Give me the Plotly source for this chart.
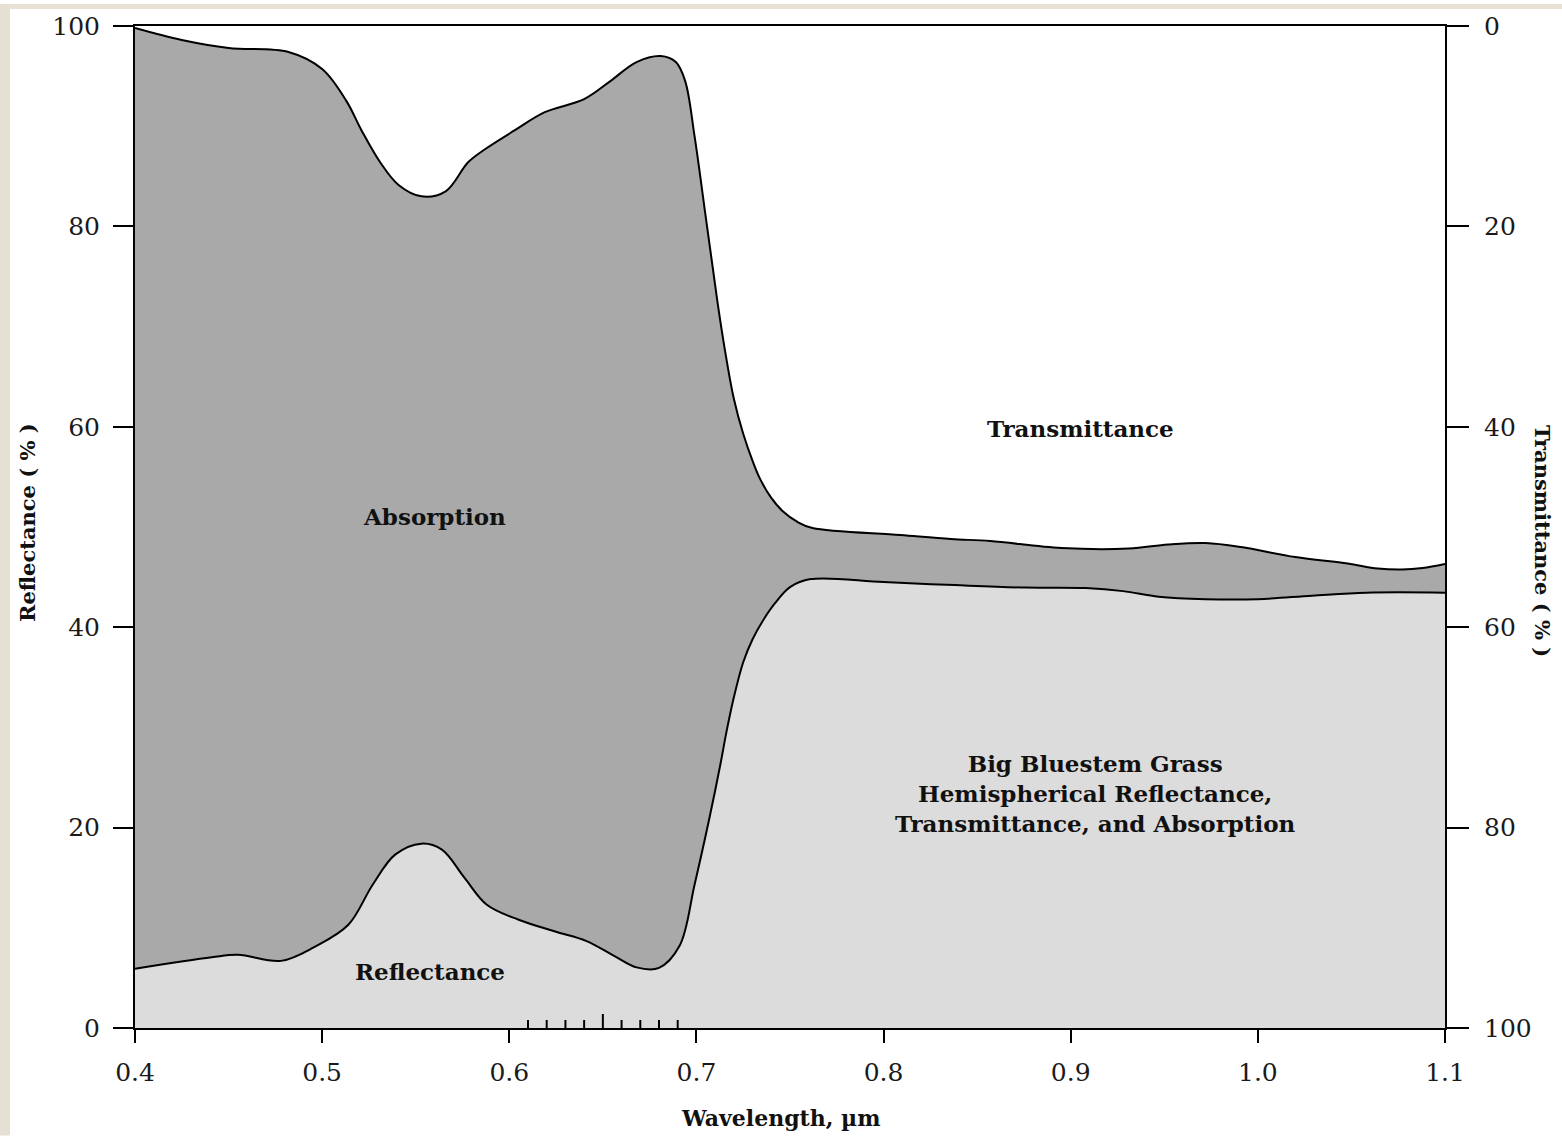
import plotly.graph_objects as go

# ---------------- data ----------------
# Upper boundary (read on the right axis as transmittance, %)
trans_wl = [0.400, 0.425, 0.450, 0.482, 0.500, 0.513, 0.521, 0.531, 0.541, 0.553,
            0.566, 0.578, 0.587, 0.603, 0.619, 0.640, 0.654, 0.668, 0.681, 0.689,
            0.694, 0.699, 0.705, 0.709, 0.712, 0.716, 0.720, 0.725, 0.730, 0.734,
            0.740, 0.746, 0.754, 0.762, 0.809, 0.836, 0.857, 0.895, 0.931, 0.952,
            0.972, 0.991, 1.020, 1.048, 1.064, 1.077, 1.088, 1.100]
transmittance = [0.2, 1.4, 2.2, 2.6, 4.3, 7.5, 10.4, 13.6, 15.9, 17.0,
                 16.5, 13.6, 12.3, 10.4, 8.6, 7.3, 5.5, 3.6, 3.0, 3.6,
                 5.5, 11.0, 19.1, 24.5, 28.5, 33.2, 37.2, 40.7, 43.4, 45.2,
                 47.1, 48.4, 49.5, 50.1, 50.8, 51.2, 51.4, 52.1, 52.15, 51.75,
                 51.6, 52.0, 53.0, 53.65, 54.15, 54.25, 54.1, 53.7]

# Lower boundary: hemispherical reflectance, %
refl_wl = [0.400, 0.441, 0.455, 0.478, 0.496, 0.514, 0.527, 0.539, 0.553, 0.564,
           0.576, 0.588, 0.605, 0.625, 0.641, 0.656, 0.668, 0.680, 0.691, 0.699,
           0.707, 0.713, 0.716, 0.720, 0.725, 0.730, 0.736, 0.742, 0.750, 0.761,
           0.800, 0.838, 0.876, 0.908, 0.928, 0.947, 0.972, 1.000, 1.029, 1.058,
           1.100]
reflectance = [5.9, 7.05, 7.3, 6.7, 8.1, 10.3, 14.3, 17.3, 18.4, 17.8,
               15.0, 12.3, 10.8, 9.6, 8.7, 7.2, 6.05, 6.0, 8.2, 14.3,
               21.0, 26.5, 29.5, 33.0, 36.5, 38.8, 40.8, 42.4, 44.0, 44.8,
               44.5, 44.2, 43.95, 43.9, 43.6, 43.05, 42.8, 42.8, 43.15, 43.45,
               43.45]

x_ticks = [0.4, 0.5, 0.6, 0.7, 0.8, 0.9, 1.0, 1.1]
x_tick_labels = ["0.4", "0.5", "0.6", "0.7", "0.8", "0.9", "1.0", "1.1"]
y_ticks = [0, 20, 40, 60, 80, 100]
y_tick_labels = ["0", "20", "40", "60", "80", "100"]
minor_tick_wl = [0.61, 0.62, 0.63, 0.64, 0.65, 0.66, 0.67, 0.68, 0.69]
major_minor_wl = 0.65

# ---------------- styling ----------------
DARK = "#a9a9a9"
LIGHT = "#dcdcdc"
SERIF = "DejaVu Serif"
TICK_FONT = dict(family=SERIF, size=25, color="#1a1a1a")
LABEL_FONT = dict(family=SERIF, size=23, color="#111111")

top_curve = [100 - t for t in transmittance]

fig = go.Figure()

fig.add_trace(go.Scatter(
    x=refl_wl, y=reflectance, mode="lines",
    line=dict(color="black", width=2, shape="spline", smoothing=1.0),
    fill="tozeroy", fillcolor=LIGHT, showlegend=False, hoverinfo="skip"))

fig.add_trace(go.Scatter(
    x=trans_wl, y=top_curve, mode="lines",
    line=dict(color="black", width=2, shape="spline", smoothing=1.0),
    fill="tonexty", fillcolor=DARK, showlegend=False, hoverinfo="skip"))

# small inside ticks on the wavelength axis
mx, my = [], []
for wl in minor_tick_wl:
    h = 1.4 if abs(wl - major_minor_wl) < 1e-9 else 0.8
    mx += [wl, wl, None]
    my += [0, h, None]
fig.add_trace(go.Scatter(x=mx, y=my, mode="lines",
                         line=dict(color="black", width=2),
                         showlegend=False, hoverinfo="skip", cliponaxis=False))

# dummy trace on right axis so it is drawn
fig.add_trace(go.Scatter(x=[None], y=[None], yaxis="y2", showlegend=False))

fig.update_layout(
    width=1562, height=1136,
    margin=dict(l=135, r=117, t=22, b=108),
    paper_bgcolor="white", plot_bgcolor="white",
    xaxis=dict(range=[0.4, 1.1], tickmode="array", tickvals=x_ticks,
               ticktext=x_tick_labels, ticks="outside", ticklen=13,
               tickwidth=2, tickcolor="black", showline=True, linewidth=2,
               linecolor="black", mirror=True, showgrid=False, zeroline=False,
               tickfont=TICK_FONT, ticklabelstandoff=8),
    yaxis=dict(range=[0, 100], tickmode="array", tickvals=y_ticks,
               ticktext=y_tick_labels, ticks="outside", ticklen=20,
               tickwidth=2, tickcolor="black", showline=True, linewidth=2,
               linecolor="black", showgrid=False, zeroline=False,
               tickfont=TICK_FONT, ticklabelstandoff=8),
    yaxis2=dict(range=[100, 0], overlaying="y", side="right",
                tickmode="array", tickvals=y_ticks, ticktext=y_tick_labels,
                ticks="outside", ticklen=22, tickwidth=2, tickcolor="black",
                showline=True, linewidth=2, linecolor="black",
                showgrid=False, zeroline=False, tickfont=TICK_FONT,
                ticklabelstandoff=10),
)

annots = [
    dict(x=0.905, y=59.8, text="<b>Transmittance</b>"),
    dict(x=0.560, y=51.0, text="<b>Absorption</b>"),
    dict(x=0.5576, y=5.67, text="<b>Reflectance</b>"),
    dict(x=0.913, y=23.4,
         text="<b>Big Bluestem Grass<br>Hemispherical Reflectance,<br>"
              "Transmittance, and Absorption</b>"),
]
for a in annots:
    fig.add_annotation(x=a["x"], y=a["y"], xref="x", yref="y", text=a["text"],
                       showarrow=False, font=LABEL_FONT, align="center",
                       xanchor="center", yanchor="middle")

TITLE_FONT = dict(family=SERIF, size=21, color="#111")
fig.add_annotation(x=(27 - 135) / 1310, y=(1028 - 521) / 1006, xref="paper",
                   yref="paper", text="<b>Reflectance ( % )</b>", textangle=-90,
                   showarrow=False, font=TITLE_FONT,
                   xanchor="center", yanchor="middle")
fig.add_annotation(x=(1542 - 135) / 1310, y=(1028 - 539) / 1006, xref="paper",
                   yref="paper", text="<b>Transmittance ( % )</b>", textangle=90,
                   showarrow=False, font=TITLE_FONT,
                   xanchor="center", yanchor="middle")
fig.add_annotation(x=(780 - 135) / 1310, y=(1028 - 1118) / 1006, xref="paper",
                   yref="paper", text="<b>Wavelength, µm</b>",
                   showarrow=False, font=dict(family=SERIF, size=22, color="#111"),
                   xanchor="center", yanchor="middle")

# faint beige frame edges seen at the top and left of the picture
fig.add_shape(type="rect", xref="paper", yref="paper",
              x0=-135 / 1310, x1=(1562 - 135) / 1310,
              y0=(1028 - 5) / 1006, y1=1028 / 1006,
              line=dict(width=0), fillcolor="#e9e2d4", layer="below")
fig.add_shape(type="rect", xref="paper", yref="paper",
              x0=-135 / 1310, x1=(10 - 135) / 1310,
              y0=(1028 - 1136) / 1006, y1=1028 / 1006,
              line=dict(width=0), fillcolor="#e6e0d4", layer="below")

fig.write_html("out.html")
